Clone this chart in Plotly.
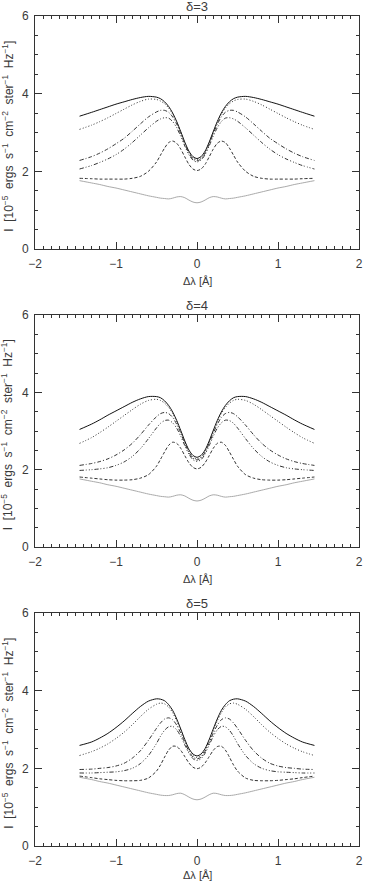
"""Line profiles for three values of delta, stacked panels."""

import plotly.graph_objects as go

# ── data (profiles are symmetric, listed for Δλ >= 0) ─────────────────────

X_HALF = [0.0, 0.05, 0.1, 0.15, 0.2, 0.25, 0.3, 0.35, 0.4, 0.45, 0.5,
          0.6, 0.7, 0.8, 0.9, 1.0, 1.1, 1.2, 1.3, 1.45]

# delta = 3
D3_SOLID = [2.33, 2.38, 2.52, 2.75, 3.02, 3.28, 3.50, 3.67, 3.79, 3.87, 3.91,
            3.93, 3.90, 3.85, 3.79, 3.73, 3.66, 3.59, 3.52, 3.42]
D3_DOT = [2.30, 2.35, 2.50, 2.73, 3.00, 3.26, 3.47, 3.63, 3.74, 3.81, 3.85,
          3.86, 3.80, 3.71, 3.60, 3.49, 3.38, 3.28, 3.19, 3.08]
D3_DASHDOT = [2.27, 2.32, 2.47, 2.70, 2.97, 3.21, 3.40, 3.52, 3.57, 3.57, 3.53,
              3.40, 3.22, 3.03, 2.85, 2.71, 2.58, 2.47, 2.38, 2.28]
D3_DASHDOTS = [2.24, 2.29, 2.43, 2.65, 2.90, 3.12, 3.28, 3.37, 3.38, 3.35, 3.29,
               3.12, 2.93, 2.74, 2.57, 2.43, 2.32, 2.23, 2.15, 2.06]
D3_DASH = [2.02, 2.06, 2.18, 2.37, 2.57, 2.72, 2.78, 2.74, 2.60, 2.42, 2.24,
           2.00, 1.87, 1.82, 1.80, 1.80, 1.80, 1.80, 1.81, 1.82]
D3_GREY = [1.19, 1.21, 1.26, 1.32, 1.35, 1.34, 1.31, 1.29, 1.30, 1.31, 1.33,
           1.37, 1.42, 1.47, 1.52, 1.57, 1.61, 1.66, 1.70, 1.76]

# delta = 4
D4_SOLID = [2.32, 2.37, 2.51, 2.74, 3.01, 3.27, 3.49, 3.66, 3.78, 3.86, 3.89,
            3.89, 3.83, 3.74, 3.63, 3.52, 3.41, 3.29, 3.18, 3.04]
D4_DOT = [2.28, 2.33, 2.48, 2.71, 2.98, 3.24, 3.45, 3.61, 3.72, 3.79, 3.82,
          3.79, 3.69, 3.55, 3.40, 3.25, 3.10, 2.96, 2.83, 2.68]
D4_DASHDOT = [2.25, 2.30, 2.45, 2.68, 2.94, 3.17, 3.35, 3.45, 3.48, 3.45, 3.37,
              3.15, 2.90, 2.68, 2.51, 2.38, 2.28, 2.21, 2.16, 2.11]
D4_DASHDOTS = [2.21, 2.26, 2.40, 2.62, 2.86, 3.07, 3.21, 3.28, 3.27, 3.20, 3.08,
               2.80, 2.54, 2.34, 2.20, 2.11, 2.05, 2.02, 2.00, 1.98]
D4_DASH = [2.02, 2.06, 2.18, 2.36, 2.55, 2.68, 2.71, 2.63, 2.46, 2.27, 2.09,
           1.87, 1.78, 1.74, 1.73, 1.73, 1.74, 1.76, 1.78, 1.81]
D4_GREY = [1.19, 1.21, 1.26, 1.32, 1.35, 1.34, 1.31, 1.29, 1.30, 1.31, 1.33,
           1.37, 1.42, 1.47, 1.52, 1.57, 1.61, 1.66, 1.70, 1.76]

# delta = 5
D5_SOLID = [2.32, 2.37, 2.51, 2.74, 3.01, 3.27, 3.49, 3.64, 3.74, 3.78, 3.79,
            3.73, 3.59, 3.41, 3.22, 3.05, 2.90, 2.78, 2.68, 2.59]
D5_DOT = [2.28, 2.33, 2.48, 2.71, 2.97, 3.22, 3.43, 3.58, 3.66, 3.68, 3.65,
          3.52, 3.33, 3.12, 2.93, 2.77, 2.63, 2.52, 2.43, 2.33]
D5_DASHDOT = [2.24, 2.29, 2.44, 2.66, 2.90, 3.11, 3.25, 3.30, 3.27, 3.17, 3.03,
              2.72, 2.45, 2.26, 2.13, 2.06, 2.02, 2.00, 1.98, 1.97]
D5_DASHDOTS = [2.20, 2.25, 2.39, 2.60, 2.82, 2.99, 3.08, 3.07, 2.98, 2.83, 2.64,
               2.33, 2.12, 2.00, 1.94, 1.91, 1.90, 1.89, 1.88, 1.88]
D5_DASH = [1.99, 2.03, 2.14, 2.30, 2.46, 2.56, 2.57, 2.47, 2.29, 2.09, 1.93,
           1.75, 1.69, 1.68, 1.68, 1.69, 1.71, 1.73, 1.76, 1.80]
D5_GREY = [1.19, 1.21, 1.26, 1.32, 1.36, 1.35, 1.32, 1.30, 1.30, 1.31, 1.33,
           1.37, 1.42, 1.47, 1.52, 1.57, 1.62, 1.66, 1.71, 1.77]

PANEL_TITLES = ["δ=3", "δ=4", "δ=5"]
X_TICKS = [-2, -1, 0, 1, 2]
Y_TICKS = [0, 2, 4, 6]

# ── styling ────────────────────────────────────────────────────────────────

W, H = 366, 881
M_L, M_R, M_T, M_B = 35, 3, 16, 35
PLOT_H = H - M_T - M_B
# pixel rows (top, bottom) of each panel frame, and x-title offset below it
PANEL_PX = [(16, 249), (315, 547), (613, 846)]
XTITLE_GAP = [32, 32, 29]

STYLES = [
    ("solid", "#111111"),
    ("1px,2px", "#333333"),
    ("4px,2px,1px,2px", "#333333"),
    ("4px,2px,1px,2px,1px,2px,1px,2px", "#333333"),
    ("3px,2px", "#333333"),
    ("solid", "#aaaaaa"),
]
FONT = "Liberation Sans, Arial, sans-serif"
TXT = "#3a3a3a"


def py_to_paper(py):
    return (H - M_B - py) / PLOT_H


def px_to_paper(px):
    return (px - M_L) / (W - M_L - M_R)


def mirror(vals):
    return vals[:0:-1] + vals


X_FULL = [-v for v in X_HALF[:0:-1]] + X_HALF

panels = [
    [D3_SOLID, D3_DOT, D3_DASHDOT, D3_DASHDOTS, D3_DASH, D3_GREY],
    [D4_SOLID, D4_DOT, D4_DASHDOT, D4_DASHDOTS, D4_DASH, D4_GREY],
    [D5_SOLID, D5_DOT, D5_DASHDOT, D5_DASHDOTS, D5_DASH, D5_GREY],
]

fig = go.Figure()
layout = {}
annotations = []

for i, curves in enumerate(panels):
    n = "" if i == 0 else str(i + 1)
    for vals, (dash, color) in zip(curves, STYLES):
        fig.add_trace(
            go.Scatter(
                x=X_FULL,
                y=mirror(vals),
                mode="lines",
                line=dict(color=color, width=1, dash=dash, shape="spline", smoothing=0.8),
                xaxis="x" + n,
                yaxis="y" + n,
                showlegend=False,
                hoverinfo="skip",
            )
        )

    top, bot = PANEL_PX[i]
    axis_common = dict(
        showline=True,
        linecolor="#333333",
        linewidth=1,
        mirror="ticks",
        ticks="inside",
        tickcolor="#333333",
        tickwidth=1,
        showgrid=False,
        zeroline=False,
        tickfont=dict(family=FONT, size=12, color=TXT),
        ticklabeloverflow="allow",
    )
    layout["xaxis" + n] = dict(
        axis_common,
        domain=[0, 1],
        range=[-2, 2],
        tickvals=X_TICKS,
        ticklen=7,
        ticklabelstandoff=4,
        minor=dict(dtick=0.1, tick0=0, ticks="inside", ticklen=3, tickcolor="#333333"),
        anchor="y" + n,
    )
    layout["yaxis" + n] = dict(
        axis_common,
        domain=[py_to_paper(bot), py_to_paper(top)],
        range=[0, 6],
        tickvals=Y_TICKS,
        ticklen=7,
        ticklabelstandoff=3,
        minor=dict(dtick=0.5, tick0=0, ticks="inside", ticklen=3, tickcolor="#333333"),
        anchor="x" + n,
    )

    # panel title
    annotations.append(dict(
        text=PANEL_TITLES[i], xref="paper", yref="paper",
        x=px_to_paper(199), y=py_to_paper(top - 10),
        xanchor="center", yanchor="middle", showarrow=False,
        font=dict(family=FONT, size=13, color=TXT),
    ))
    # x axis title
    annotations.append(dict(
        text="Δλ [Å]", xref="paper", yref="paper",
        x=px_to_paper(199), y=py_to_paper(bot + XTITLE_GAP[i]),
        xanchor="center", yanchor="middle", showarrow=False,
        font=dict(family=FONT, size=11, color=TXT),
    ))
    # y axis title
    annotations.append(dict(
        text="I  [10<sup>−5</sup>  ergs  s<sup>−1</sup>  cm<sup>−2</sup>  ster<sup>−1</sup>  Hz<sup>−1</sup>]",
        xref="paper", yref="paper",
        x=px_to_paper(7), y=py_to_paper((top + bot) / 2 + 4),
        xanchor="center", yanchor="middle", textangle=-90, showarrow=False,
        font=dict(family=FONT, size=12, color=TXT),
    ))

fig.update_layout(
    **layout,
    annotations=annotations,
    width=W,
    height=H,
    margin=dict(l=M_L, r=M_R, t=M_T, b=M_B),
    paper_bgcolor="white",
    plot_bgcolor="white",
)

# the page's default body margin would push the fixed-size figure off-window
fig.write_html(
    "out.html",
    config={"displayModeBar": False},
    post_script="document.body.style.margin='0';document.body.style.overflow='hidden';",
)
